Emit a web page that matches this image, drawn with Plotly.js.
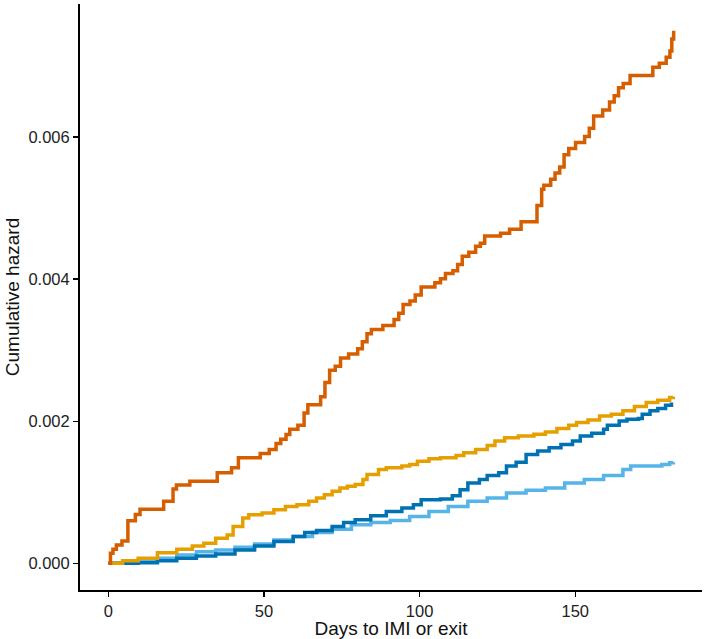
<!DOCTYPE html>
<html>
<head>
<meta charset="utf-8">
<script src="https://cdn.plot.ly/plotly-3.0.1.min.js"></script>
<style>html,body{margin:0;padding:0;background:#fff;}#chart{width:708px;height:639px;}</style>
</head>
<body>
<div id="chart"></div>
<script>
// Vermillion series
var vermDays = [0, 0.7, 1.5, 2.6, 4.4, 6.3, 8.7, 10.2, 17.8, 20.8, 21.9, 26.2, 35.0, 39.6, 41.8, 48.8, 51.7, 53.9, 55.4, 57.1, 58.3, 60.9, 62.9, 64.1, 68.2, 69.6, 71.1, 72.9, 74.6, 77.2, 80.1, 81.6, 83.1, 84.5, 88.2, 91.8, 93.3, 94.7, 96.9, 98.6, 100.5, 104.9, 106.7, 108.3, 110.7, 112.2, 113.7, 115.8, 118.0, 119.5, 120.9, 126.0, 128.9, 132.6, 137.7, 139.2, 139.9, 142.1, 143.5, 145.0, 146.4, 147.9, 150.1, 153.0, 154.5, 155.9, 158.8, 161.0, 162.5, 163.9, 165.4, 167.6, 174.9, 177.0, 179.2, 180.4, 181.0, 181.6];
var vermHaz = [0, 0.143, 0.200, 0.258, 0.315, 0.601, 0.687, 0.761, 0.876, 1.048, 1.105, 1.156, 1.276, 1.345, 1.488, 1.545, 1.603, 1.689, 1.746, 1.815, 1.889, 1.946, 2.118, 2.232, 2.347, 2.547, 2.719, 2.776, 2.891, 2.948, 3.022, 3.120, 3.234, 3.291, 3.349, 3.434, 3.520, 3.646, 3.692, 3.778, 3.892, 3.950, 4.007, 4.081, 4.121, 4.207, 4.322, 4.379, 4.465, 4.505, 4.608, 4.648, 4.705, 4.808, 5.037, 5.266, 5.323, 5.409, 5.495, 5.581, 5.753, 5.839, 5.925, 6.010, 6.125, 6.297, 6.382, 6.497, 6.583, 6.697, 6.754, 6.869, 6.983, 7.041, 7.127, 7.212, 7.384, 7.499];

// Orange series
var orangeDays = [0, 4.6, 9.6, 15.8, 22.0, 27.0, 30.7, 34.5, 38.2, 40.1, 43.2, 45.1, 49.4, 53.2, 56.9, 60.6, 64.4, 66.9, 69.4, 71.9, 74.4, 76.8, 79.3, 81.8, 83.1, 86.8, 89.3, 94.3, 96.8, 99.3, 103.0, 106.7, 111.7, 114.2, 118.0, 121.7, 124.2, 127.3, 131.7, 136.7, 140.4, 144.1, 147.9, 150.4, 154.1, 157.8, 161.6, 165.3, 169.0, 172.8, 176.5, 180.3, 181.5];
var orangeHaz = [0, 0.038, 0.071, 0.151, 0.198, 0.245, 0.283, 0.354, 0.401, 0.519, 0.637, 0.684, 0.708, 0.755, 0.802, 0.826, 0.873, 0.920, 0.967, 1.015, 1.062, 1.085, 1.109, 1.180, 1.251, 1.321, 1.345, 1.369, 1.392, 1.439, 1.472, 1.486, 1.519, 1.557, 1.604, 1.661, 1.722, 1.770, 1.793, 1.817, 1.850, 1.897, 1.944, 1.982, 2.020, 2.076, 2.100, 2.147, 2.208, 2.265, 2.298, 2.336, 2.345];

// Dark blue series
var darkDays = [0, 9.6, 15.8, 22.0, 28.3, 34.5, 40.7, 47.0, 53.2, 59.4, 63.1, 66.9, 71.9, 75.6, 79.3, 84.3, 89.3, 94.3, 98.0, 100.5, 106.7, 110.5, 113.0, 115.5, 119.2, 121.7, 125.4, 127.9, 131.0, 134.2, 137.9, 141.6, 145.4, 149.1, 151.6, 155.3, 159.1, 160.3, 164.1, 166.6, 170.3, 171.5, 174.0, 176.5, 179.0, 180.9];
var darkHaz = [0, 0.009, 0.038, 0.071, 0.104, 0.132, 0.189, 0.245, 0.307, 0.377, 0.434, 0.462, 0.519, 0.576, 0.613, 0.670, 0.731, 0.779, 0.826, 0.897, 0.906, 0.953, 1.038, 1.133, 1.180, 1.236, 1.274, 1.369, 1.425, 1.534, 1.581, 1.628, 1.675, 1.722, 1.793, 1.831, 1.888, 1.944, 2.006, 2.029, 2.039, 2.100, 2.147, 2.180, 2.227, 2.265];

// Light blue series
var lightDays = [0, 4.6, 9.6, 15.8, 22.0, 28.3, 34.5, 40.7, 47.0, 53.2, 59.4, 65.6, 71.9, 78.1, 84.3, 90.6, 96.8, 103.0, 109.2, 115.5, 121.7, 127.9, 134.2, 140.4, 146.6, 152.9, 159.1, 165.3, 167.8, 174.0, 177.8, 180.3, 181.5];
var lightHaz = [0, 0.009, 0.038, 0.071, 0.118, 0.165, 0.189, 0.227, 0.274, 0.330, 0.377, 0.434, 0.481, 0.543, 0.576, 0.604, 0.661, 0.731, 0.802, 0.873, 0.920, 0.991, 1.029, 1.062, 1.133, 1.180, 1.236, 1.321, 1.369, 1.369, 1.392, 1.416, 1.425];

var yTicks = [0, 0.002, 0.004, 0.006];
var xTicks = [0, 50, 100, 150];

function scale(arr) { return arr.map(function (v) { return v / 1000; }); }

function series(x, y, color) {
  return { x: x, y: scale(y), type: 'scatter', mode: 'lines',
    line: { shape: 'hv', color: color, width: 3.5 }, hoverinfo: 'skip', showlegend: false };
}

var data = [
  series(lightDays, lightHaz, '#56B4E9'),
  series(darkDays, darkHaz, '#0072B2'),
  series(orangeDays, orangeHaz, '#E69F00'),
  series(vermDays, vermHaz, '#D55E00')
];

var fontFam = 'Liberation Sans, Arial, Helvetica, sans-serif';
var layout = {
  width: 708, height: 639,
  margin: { l: 80, r: 6, t: 4, b: 49, pad: 0 },
  paper_bgcolor: '#ffffff', plot_bgcolor: '#ffffff',
  font: { family: fontFam, color: '#1a1a1a', size: 16 },
  xaxis: {
    range: [-9.08, 190.7],
    tickvals: xTicks, ticktext: xTicks.map(String),
    showgrid: false, zeroline: false,
    showline: true, linecolor: '#000', linewidth: 2,
    ticks: 'outside', ticklen: 5, tickwidth: 1.5, tickcolor: '#000',
    tickfont: { size: 16.5, color: '#222', family: fontFam },
    title: { text: 'Days to IMI or exit', font: { size: 19, color: '#111', family: fontFam }, standoff: 2 }
  },
  yaxis: {
    range: [-0.000375, 0.007875],
    tickvals: yTicks, ticktext: yTicks.map(function (v) { return v.toFixed(3); }),
    showgrid: false, zeroline: false,
    showline: true, linecolor: '#000', linewidth: 2,
    ticks: 'outside', ticklen: 5, tickwidth: 1.5, tickcolor: '#000',
    tickfont: { size: 16.5, color: '#222', family: fontFam },
    title: { text: 'Cumulative hazard', font: { size: 19, color: '#111', family: fontFam }, standoff: 4 }
  }
};

Plotly.newPlot('chart', data, layout, { staticPlot: true, displayModeBar: false });
</script>
</body>
</html>
